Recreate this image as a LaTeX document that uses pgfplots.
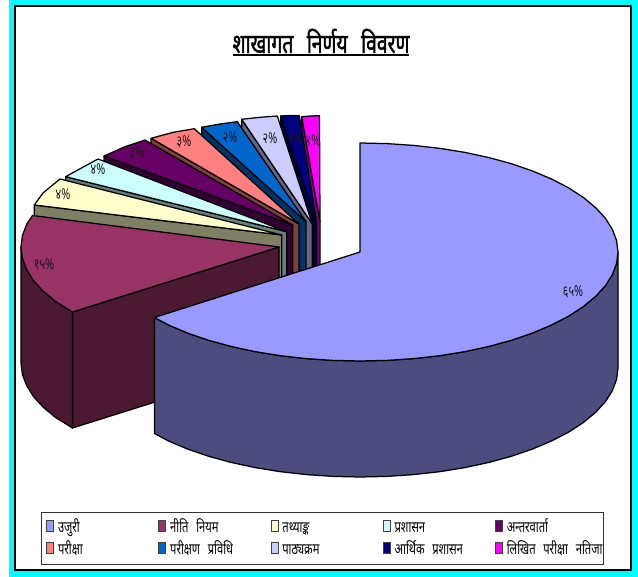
\documentclass[border=0pt]{standalone}
\usepackage{fontspec}
\setmainfont{Noto Sans}[Script=Devanagari,FakeStretch=0.72]
\newfontfamily\titlefont{Noto Sans}[Script=Devanagari,FakeStretch=0.715,FakeBold=1.5]
\usepackage{pgfplots}
\pgfplotsset{compat=1.18}
\definecolor{cA}{HTML}{9999FF}\definecolor{dA}{HTML}{4C4C7F}
\definecolor{cB}{HTML}{993366}\definecolor{dB}{HTML}{4C1933}
\definecolor{cC}{HTML}{FFFFCC}\definecolor{dC}{HTML}{7F7F66}
\definecolor{cD}{HTML}{CCFFFF}\definecolor{dD}{HTML}{667F7F}
\definecolor{cE}{HTML}{660066}\definecolor{dE}{HTML}{330033}
\definecolor{cF}{HTML}{FF8080}\definecolor{dF}{HTML}{7F4040}
\definecolor{cG}{HTML}{0066CC}\definecolor{dG}{HTML}{003366}
\definecolor{cH}{HTML}{CCCCFF}\definecolor{dH}{HTML}{66667F}
\definecolor{cI}{HTML}{000080}\definecolor{dI}{HTML}{000040}
\definecolor{cJ}{HTML}{FF00FF}\definecolor{dJ}{HTML}{7F007F}
\definecolor{frame}{HTML}{00FFFF}
\newcommand{\ent}[2][100.4pt]{\raisebox{-4pt}[5.5pt][5.5pt]{\makebox[#1][l]{#2}}}
\pgfplotsset{
  slice/.style={fill=#1,draw=black,line width=1.25pt,line join=round,forget plot},
  key/.style={legend image code/.code={\draw[fill=#1,draw=black!75,line width=0.8pt] (0pt,-5.5pt) rectangle (7pt,5.5pt);}},
}
\begin{document}
\begin{tikzpicture}
\begin{axis}[
  scale only axis,width=638pt,height=577pt,
  xmin=0,xmax=638,ymin=0,ymax=577,y dir=reverse,
  hide axis,clip=true,
  legend columns=5,
  legend cell align=left,
  legend style={
    at={(axis cs:41.7,520.2)},anchor=north west,
    draw=none,fill=none,
    inner xsep=4.3pt,inner ysep=0pt,
    font=\fontsize{15.5}{17}\selectfont,
    row sep=10pt,
    nodes={inner sep=0pt,anchor=west},
    /tikz/every odd column/.append style={column sep=4pt},
  },
]
\addlegendimage{key=cA}\addlegendentry{\ent{उजुरी}}
\addlegendimage{key=cB}\addlegendentry{\ent{नीति\enspace नियम}}
\addlegendimage{key=cC}\addlegendentry{\ent{तथ्याङ्क}}
\addlegendimage{key=cD}\addlegendentry{\ent{प्रशासन}}
\addlegendimage{key=cE}\addlegendentry{\ent[92pt]{अन्तरवार्ता}}
\addlegendimage{key=cF}\addlegendentry{\ent{परीक्षा}}
\addlegendimage{key=cG}\addlegendentry{\ent{परीक्षण\enspace प्रविधि}}
\addlegendimage{key=cH}\addlegendentry{\ent{पाठ्यक्रम}}
\addlegendimage{key=cI}\addlegendentry{\ent{आर्थिक\enspace प्रशासन}}
\addlegendimage{key=cJ}\addlegendentry{\ent[92pt]{लिखित\enspace परीक्षा\enspace नतिजा}}
% page and frame
\addplot[fill=white,draw=none,forget plot] coordinates {(0,0)(638,0)(638,577)(0,577)} --cycle;
\addplot[fill=frame,draw=none,forget plot] coordinates {(9,0)(638,0)(638,577)(9,577)} --cycle;
\addplot[fill=white,draw=black,line width=1.7pt,forget plot] coordinates {(14.8,6)(631,6)(631,570)(14.8,570)} --cycle;
% legend frame
\addplot[fill=white,draw=black!80,line width=0.9pt,forget plot] coordinates {(41.7,512)(603,512)(603,564)(41.7,564)} --cycle;
% title underline
\addplot[draw=black,line width=2pt,forget plot] coordinates {(233,55)(409,55)};
% magenta 1%
\addplot[slice=dJ] coordinates {(301.7,116.7)(320,222)(320,338)(301.7,232.7)} --cycle;
\addplot[slice=cJ] coordinates {(301.7,116.7)(310.5,116)(319.5,115.7)(320,222)} --cycle;
% navy 1%
\addplot[slice=dI] coordinates {(280.7,116)(316.7,223.3)(316.7,339.3)(280.7,232)} --cycle;
\addplot[slice=cI] coordinates {(280.7,116)(290,115.5)(299.3,115.7)(316.7,223.3)} --cycle;
% pale 2%
\addplot[slice=dH] coordinates {(241.7,119.3)(312.3,224)(312.3,340)(241.7,235.3)} --cycle;
\addplot[slice=cH] coordinates {(241.7,119.3)(260,117.3)(277.3,116)(312.3,224)} --cycle;
% blue 2%
\addplot[slice=dG] coordinates {(201.7,127.3)(306,221.7)(306,337.7)(201.7,243.3)} --cycle;
\addplot[slice=cG] coordinates {(201.7,127.3)(220,124)(237.3,121.7)(306,221.7)} --cycle;
% salmon 3%
\addplot[slice=dF] coordinates {(151,138.3)(299,224)(299,340)(151,254.3)} --cycle;
\addplot[slice=cF] coordinates {(151,138.3)(173.3,132.3)(194.3,128.7)(299,224)} --cycle;
% purple 3%
\addplot[slice=dE] coordinates {(104,156)(292.7,225)(292.7,341)(104,272)} --cycle;
\addplot[slice=cE] coordinates {(104,156)(125,146.7)(145,140)(292.7,225)} --cycle;
% pale cyan 4%
\addplot[slice=dD] coordinates {(65.7,176.7)(286.7,231.7)(286.7,347.7)(65.7,292.7)} --cycle;
\addplot[slice=cD] coordinates {(65.7,176.7)(82,167.7)(98,159)(286.7,231.7)} --cycle;
% yellow 4%
\addplot[slice=dC] coordinates {(34.3,205)(281.7,235)(281.7,351)(34.3,321)} --cycle;
\addplot[slice=cC] coordinates {(34.3,205)(43,193)(60,179)(281.7,235)} --cycle;
% maroon 15%
\addplot[slice=dB] coordinates {(279,247)(72.5,312)(72.5,428)(279,363)} --cycle;
\addplot[slice=dB] coordinates {(72.5,312)(55.6,301.5)(43.3,291.3)(33.6,280.7)(26.7,269.7)(22.4,258.4)(21,247)(21,363)(22.4,374.4)(26.7,385.7)(33.6,396.7)(43.3,407.3)(55.6,417.5)(72.5,428)} --cycle;
\addplot[slice=cB] coordinates {(279,247)(72.5,312)(55.6,301.5)(43.3,291.3)(33.6,280.7)(26.7,269.7)(22.4,258.4)(21,247)(22.4,235.6)(26.7,224.3)(32.5,215.5)} --cycle;
% blue 65%
\addplot[slice=dA] coordinates {(618,252)(616.6,263.4)(612.3,274.7)(605.4,285.7)(595.7,296.3)(583.4,306.5)(568.7,316.1)(551.7,324.9)(532.6,333)(511.7,340.2)(489,346.4)(464.9,351.6)(439.7,355.7)(413.6,358.6)(387,360.4)(360,361)(333,360.4)(306.4,358.6)(280.3,355.7)(255.1,351.6)(231,346.4)(208.3,340.2)(187.4,333)(168.3,324.9)(154.5,317.5)
 (154.5,433.5)(168.3,440.9)(187.4,449)(208.3,456.2)(231,462.4)(255.1,467.6)(280.3,471.7)(306.4,474.6)(333,476.4)(360,477)(387,476.4)(413.6,474.6)(439.7,471.7)(464.9,467.6)(489,462.4)(511.7,456.2)(532.6,449)(551.7,440.9)(568.7,432.1)(583.4,422.5)(595.7,412.3)(605.4,401.7)(612.3,390.7)(616.6,379.4)(618,368)} --cycle;
\addplot[slice=cA] coordinates {(360,252)(360,143)(387,143.6)(413.6,145.4)(439.7,148.3)(464.9,152.4)(489,157.6)(511.7,163.8)(532.6,171)(551.7,179.1)(568.7,187.9)(583.4,197.5)(595.7,207.7)(605.4,218.3)(612.3,229.3)(616.6,240.6)(618,252)(616.6,263.4)(612.3,274.7)(605.4,285.7)(595.7,296.3)(583.4,306.5)(568.7,316.1)(551.7,324.9)(532.6,333)(511.7,340.2)(489,346.4)(464.9,351.6)(439.7,355.7)(413.6,358.6)(387,360.4)(360,361)(333,360.4)(306.4,358.6)(280.3,355.7)(255.1,351.6)(231,346.4)(208.3,340.2)(187.4,333)(168.3,324.9)(154.5,317.5)} --cycle;
% title and labels
\node[inner sep=0pt,font=\titlefont\fontsize{27}{30}\selectfont] at (axis cs:321,41) {शाखागत\enspace निर्णय\enspace विवरण};
\begin{scope}[every node/.style={inner sep=0pt,font=\fontsize{15}{17}\selectfont,text=black!90}]
\node at (axis cs:573,292) {६५\%};
\node at (axis cs:44,264) {१५\%};
\node at (axis cs:63,194) {४\%};
\node at (axis cs:98,169) {४\%};
\node at (axis cs:137,153) {३\%};
\node at (axis cs:184,142) {३\%};
\node at (axis cs:230,137) {२\%};
\node at (axis cs:270,138) {२\%};
\node at (axis cs:295,139) {१\%};
\node at (axis cs:313,140) {१\%};
\end{scope}
\end{axis}
\end{tikzpicture}
\end{document}
